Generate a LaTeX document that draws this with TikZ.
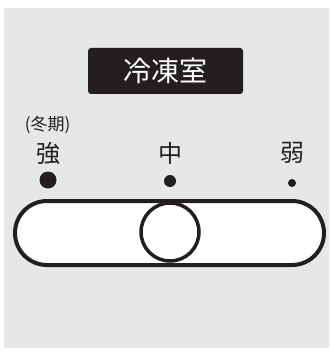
\documentclass[tikz,border=0pt]{standalone}
\usepackage{fontspec}
\newfontfamily\cjk{Noto Sans CJK JP}
\usetikzlibrary{positioning}
\definecolor{panelgray}{HTML}{E6E7E9}
\definecolor{inkblack}{HTML}{231F20}
\tikzstyle{title} = [rectangle, rounded corners=3pt, fill=inkblack, text=white, minimum width=155pt, minimum height=46pt, font=\cjk\fontsize{28}{28}\selectfont]
\tikzstyle{level} = [text=inkblack, inner sep=0pt, font=\cjk\fontsize{24}{24}\selectfont]
\tikzstyle{season} = [text=inkblack, inner sep=0pt, font=\cjk\fontsize{17}{17}\selectfont]
\tikzstyle{leveldot} = [circle, fill=inkblack, inner sep=0pt]
\tikzstyle{slot} = [rectangle, rounded corners=32pt, draw=inkblack, line width=4pt, fill=white, minimum width=309pt, minimum height=64pt]
\tikzstyle{knob} = [circle, draw=inkblack, line width=3.5pt, fill=white, minimum size=58pt, inner sep=0pt]

\begin{document}
\begin{tikzpicture}[x=1pt, y=-1pt]
      \useasboundingbox (0,0) rectangle (329,358);
      \fill[panelgray] (4,8) rectangle (329,348);
      % Nodes
      \node (freezer) [title] at (165.5,71) {冷凍室};
      \node (winter) [season] at (47.5,125) {(冬期)};
      \node (strong) [level] at (48,153) {強};
      \node (medium) [level] at (170,153) {中};
      \node (weak) [level] at (292,153) {弱};
      \node (strongdot) [leveldot, minimum size=17pt] at (48,180) {};
      \node (mediumdot) [leveldot, minimum size=12pt] at (170,181) {};
      \node (weakdot) [leveldot, minimum size=8pt] at (292,183) {};
      % Slider
      \node (track) [slot] at (169.5,233) {};
      \node (slider) [knob] at (170,232) {};
    \end{tikzpicture}
\end{document}
